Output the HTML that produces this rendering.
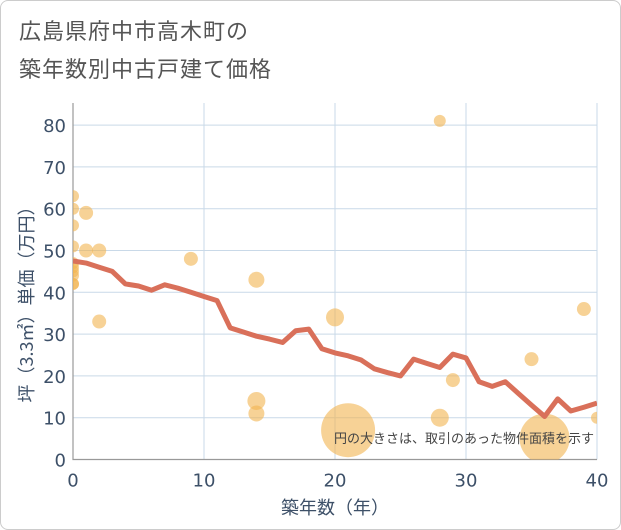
<!DOCTYPE html>
<html><head><meta charset="utf-8"><style>
body{margin:0;background:#fff;font-family:"DejaVu Sans","Noto Sans CJK JP",sans-serif}
#wrap{position:relative;width:619px;height:528px;border:1px solid #ccc;border-radius:8px;overflow:hidden}
.title{position:absolute;left:18px;font-size:22px;color:#555;letter-spacing:1px;font-family:"Noto Sans CJK JP",sans-serif}
</style></head><body>
<div id="wrap">
<div class="title" style="top:13px">広島県府中市高木町の</div>
<div class="title" style="top:51px">築年数別中古戸建て価格</div>
<svg id="svg" width="621" height="530" style="position:absolute;left:-1px;top:-1px"></svg>
</div>
<script>
const years=[0,1,2,3,4,5,6,7,8,9,10,11,12,13,14,15,16,17,18,19,20,21,22,23,24,25,26,27,28,29,30,31,32,33,34,35,36,37,38,39,40];
const avgPrice=[47.5,47,46,45,42,41.5,40.5,41.8,41,40,39,38,31.5,30.5,29.5,28.8,28,30.8,31.2,26.5,25.5,24.8,23.8,21.7,20.8,20,24,23,22,25.2,24.3,18.6,17.5,18.6,15.8,13,10.3,14.5,11.6,12.5,13.5];
const bubX=[0,0,0,0,0,0,0,0,0,0,1,1,2,2,9,14,14,14,20,21,28,28,29,35,36,39,40];
const bubY=[63,60,56,51,47,46,45,44,42,42,59,50,50,33,48,43,14,11,34,7,81,10,19,24,5,36,10];
const bubR=[6,6,6,6,6,6,6,6,6,6,7,7,7,7,7,8,9,8,9,27,6,9,7,7,25,7,6];
const xTicks=[0,10,20,30,40];
const yTicks=[0,10,20,30,40,50,60,70,80];
const L=73,R=597,T=103,B=459.5;
const xs=v=>L+(v-0)/40*(R-L);
const ys=v=>B-v*4.18;
const svg=document.getElementById('svg');
const NS='http://www.w3.org/2000/svg';
function mk(t,a,p){const e=document.createElementNS(NS,t);for(const k in a)e.setAttribute(k,a[k]);(p||svg).appendChild(e);return e;}
const defs=mk('clipPath',{id:'clip'});mk('rect',{x:L,y:T,width:R-L,height:B-T},defs);
yTicks.forEach(v=>{const g=mk('line',{x1:L,x2:R,y1:ys(v),y2:ys(v),stroke:'#c9d9e8','stroke-width':1});

const t=mk('text',{x:L-7,y:ys(v)+7,'text-anchor':'end','font-size':18,fill:'#3d5068'});t.textContent=v;
});
xTicks.forEach(v=>{const g=mk('line',{x1:xs(v),x2:xs(v),y1:T,y2:B,stroke:'#c9d9e8','stroke-width':1});

const t=mk('text',{x:xs(v),y:B+27,'text-anchor':'middle','font-size':18,fill:'#3d5068'});t.textContent=v;
});
const ax=mk('path',{d:`M${L},${T}V${B}H${R}`,fill:'none',stroke:'#999','stroke-width':1.2});

const bg=mk('g',{'clip-path':'url(#clip)'});
bubX.forEach((x,i)=>{const c=mk('circle',{cx:xs(x),cy:ys(bubY[i]),r:bubR[i],fill:'rgba(242,180,80,0.6)'},bg);
});
const ln=mk('polyline',{points:years.map((y,i)=>xs(y)+','+ys(avgPrice[i])).join(' '),fill:'none',stroke:'#d9705a','stroke-width':5,'stroke-linejoin':'round'},bg);

const note=mk('text',{x:594,y:443,'text-anchor':'end','font-size':13,fill:'#444','font-family':'Noto Sans CJK JP,sans-serif'});note.textContent='円の大きさは、取引のあった物件面積を示す';

const xt=mk('text',{x:335,y:514,'text-anchor':'middle','font-size':18,fill:'#3d5068','font-family':'Noto Sans CJK JP,sans-serif'});xt.textContent='築年数（年）';

const yt=mk('text',{x:0,y:0,'text-anchor':'middle','font-size':18,fill:'#3d5068','font-family':'Noto Sans CJK JP,sans-serif',transform:'translate(33,300) rotate(-90)'});yt.textContent='坪（3.3㎡）単価（万円）';

</script>
</body></html>
